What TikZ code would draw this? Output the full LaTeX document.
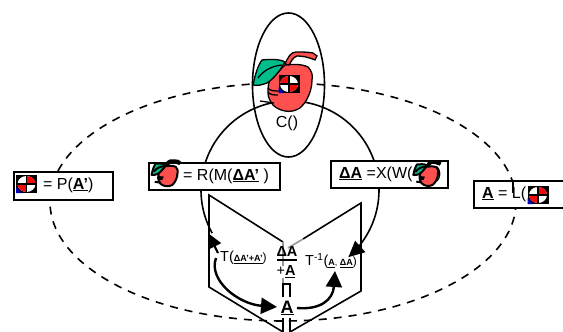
\documentclass[tikz,border=0pt]{standalone}
\usepackage{fontspec}
\setmainfont{Liberation Sans}
\usetikzlibrary{arrows.meta}
\definecolor{applered}{RGB}{255,80,80}
\definecolor{leafgreen}{RGB}{0,190,140}
\definecolor{iconred}{RGB}{240,10,10}
\definecolor{iconblue}{RGB}{0,0,190}
\definecolor{linegray}{RGB}{150,150,150}
\tikzset{
  labelbox/.style={draw=black,line width=1.8pt,fill=white,minimum height=27pt,anchor=north west,inner sep=0pt},
  txt/.style={inner sep=0pt,font=\fontsize{16}{18}\selectfont},
  midtxt/.style={inner sep=0pt,font=\fontsize{14.5}{16}\selectfont},
  bigarrow/.style={line width=2.4pt,-{Triangle[length=16pt,width=16pt]}},
  outline/.style={line width=1.6pt},
}
\newcommand{\smallfont}{\fontsize{9}{10}\selectfont}
% #1 x, #2 y, #3 horizontal sign of the red quadrants
\newcommand{\targeticon}[3]{%
  \begin{scope}[shift={(#1,#2)}]
    \fill[black] (-10.5,-9) rectangle (10.5,9);
    \fill[iconblue] (-10.5,9) -- (-10.5,3) -- (-5,9) -- cycle;
    \fill[white] (0,0) circle[x radius=9,y radius=8];
    \begin{scope}[xscale=#3]
      \fill[iconred] (0,0) -- (-9,0) arc[start angle=180,end angle=90,x radius=9,y radius=8] -- cycle;
      \fill[iconred] (0,0) -- (9,0) arc[start angle=0,end angle=-90,x radius=9,y radius=8] -- cycle;
    \end{scope}
    \draw[black,line width=1.5pt] (-10,0) -- (10,0) (0,-8) -- (0,8);
  \end{scope}}
% #1 x, #2 y, #3 scale, #4 line width, #5 stem fill
\newcommand{\appleicon}[5]{%
  \begin{scope}[shift={(#1,#2)},scale=#3,line width=#4]
    \draw[fill=applered,line join=round] (-3,-25) .. controls (5,-26) and (14,-26) .. (20,-23)
      .. controls (24,-19) and (25,-14) .. (24,-10)
      .. controls (24,-3) and (22,3) .. (20,7)
      .. controls (18,12) and (15,15) .. (12,18)
      .. controls (7,21) and (2,22) .. (-3,21)
      .. controls (-8,20) and (-12,18) .. (-15,15)
      .. controls (-18,11) and (-20,7) .. (-20,3)
      .. controls (-20,-2) and (-20,-6) .. (-18,-10) -- cycle;
    \draw[fill=#5] (-3,-26) .. controls (0,-33) and (3,-38) .. (8,-38)
      .. controls (14,-38) and (20,-38) .. (25,-37) -- (29,-34) -- (27,-30)
      .. controls (20,-33) and (14,-34) .. (9,-34) .. controls (5,-33) and (3,-28) .. (1,-25) -- cycle;
    \draw[fill=leafgreen,line join=round] (-35,-5) .. controls (-33,-15) and (-30,-25) .. (-26,-30)
      .. controls (-18,-31) and (-8,-31) .. (-3,-28)
      .. controls (-5,-25) and (-6,-23) .. (-8,-20)
      .. controls (-12,-15) and (-16,-10) .. (-21,-7)
      .. controls (-26,-5) and (-31,-4) .. (-35,-5) -- cycle;
    \draw (-30,-12) .. controls (-24,-20) and (-16,-24) .. (-6,-25);
    \draw (-20,-2) .. controls (-18,1) and (-14,1) .. (-8,1);
    \draw (-20,2) .. controls (-18,5) and (-14,5) .. (-10,5);
    \draw (-28,11) -- (-14,13);
  \end{scope}}
\begin{document}
\begin{tikzpicture}[x=1pt,y=-1pt]
  \useasboundingbox (0,0) rectangle (563,332);
  % dashed ellipse and solid circle
  \draw[line width=1.6pt,dash pattern=on 8pt off 7pt] (283,202) circle[x radius=233,y radius=119];
  \coordinate (circleEndL) at (211,233);
  \coordinate (tipR) at (349,258);
  \draw[outline,-{Triangle[length=16pt,width=15pt]}] plot[domain=151:409,samples=80,smooth] ({290+89*cos(\x)},{190+89*sin(\x)});
  % book
  \coordinate (lt) at (209,195); \coordinate (lm) at (283,242);
  \coordinate (lb) at (209,287); \coordinate (lbm) at (283,332);
  \coordinate (rt) at (361,203); \coordinate (rg) at (303,239); \coordinate (rm) at (288,248);
  \coordinate (rb) at (361,291); \coordinate (rbm) at (290,332);
  \draw[outline] (lm) -- (lt) -- (lb) -- (lbm);
  \draw[outline] (rg) -- (rt) -- (rb) -- (rbm);
  \draw[linegray,line width=1.6pt] (rg) -- (rm);
  \draw[linegray,line width=1.6pt] (lm) -- (283,283);
  \draw[line width=1.6pt] (283,283) -- (283,297) (290,283) -- (290,297);
  \draw[line width=1.6pt] (283,284) -- (290,284);
  \draw[line width=1.6pt] (283,318) -- (283,332) (290,318) -- (290,332);
  % ellipse around the apple
  \draw[outline] (288.5,85) circle[x radius=36,y radius=72];
  \appleicon{288}{90}{1}{1.3pt}{applered}
  \targeticon{289}{84}{-1}
  \node[txt] (cfun) at (287,123) {C()};
  % boxes
  \node[labelbox,minimum width=99pt,minimum height=28pt] (pbox) at (13,171) {};
  \targeticon{26.5}{184}{1}
  \node[txt,anchor=west] (ptext) at (43,185) {= P(\textbf{\underline{A’}})};
  \node[labelbox,minimum width=131pt] (rbox) at (148,162) {};
  \appleicon{167}{177}{0.44}{2pt}{black}
  \node[txt,anchor=west] (rtext) at (183,176) {= R(M(\textbf{\underline{ΔA’}} )};
  \node[labelbox,minimum width=117pt] (xbox) at (330,160) {};
  \appleicon{428}{177}{0.42}{2pt}{black}
  \node[txt,anchor=west] (xtext) at (339,174) {\textbf{\underline{ΔA}} =X(W(};
  \node[txt,anchor=west] (xclose) at (436,174) {)};
  \node[labelbox,minimum width=100pt] (lbox) at (473,180) {};
  \node[txt,anchor=west] (ltext) at (482,194) {\textbf{\underline{A}} = L(};
  \targeticon{538}{195}{1}
  \draw[line width=1.4pt] (513,181) -- (513,193);
  % centre texts
  \node[midtxt,anchor=west] (tfun) at (220,258) {T(\smallfont\textbf{\underline{ΔA’+A’}}\fontsize{12}{13}\selectfont)};
  \node[midtxt,font=\fontsize{14.5}{16}\selectfont\bfseries] (da) at (287,252) {ΔA};
  \draw[line width=1.4pt] (277,260) -- (297,260);
  \node[midtxt,fill=white] (pa) at (286,272) {+\textbf{\underline{A}}};
  \node[midtxt,anchor=west] (tinv) at (305,261) {T\textsuperscript{-1}(\smallfont\textbf{\underline{A}}, \textbf{\underline{ΔA}}\fontsize{12}{13}\selectfont)};
  \node[midtxt,font=\fontsize{18}{20}\selectfont\bfseries,fill=white] (a) at (287,308) {\underline{A}};
  % arrows
  \coordinate (tipL) at (208,233);
  \coordinate (tipT) at (335,271);
  \draw[bigarrow] (216,258) .. controls (208,280) and (238,304) .. (277,307);
  \draw[line width=2.2pt,-{Triangle[length=15pt,width=14pt]}] (218,253) -- (tipL);
  \draw[bigarrow] (297,308) .. controls (320,310) and (333,300) .. (tipT);
\end{tikzpicture}
\end{document}
